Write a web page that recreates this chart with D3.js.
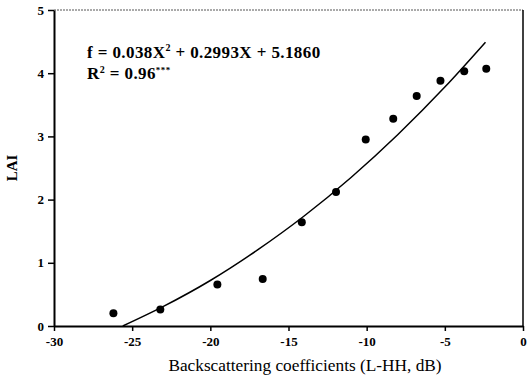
<!DOCTYPE html>
<html>
<head>
<meta charset="utf-8">
<script src="https://cdn.jsdelivr.net/npm/d3@7"></script>
<style>
  body { margin: 0; background: #fff; }
  svg text { font-family: "Liberation Serif", "Times New Roman", serif; fill: #000; }
</style>
</head>
<body>
<div id="chart"></div>
<script>
// measured points (backscattering dB vs LAI)
var backscatter = [-26.2, -23.2, -19.55, -16.65, -14.15, -11.96, -10.06, -8.3, -6.8, -5.28, -3.76, -2.35];
var lai = [0.20, 0.26, 0.655, 0.745, 1.64, 2.12, 2.95, 3.28, 3.64, 3.88, 4.03, 4.07];

// fitted curve
var fitX = [-25.6, -23, -20, -17, -14, -11, -8, -5, -2.4];
var fitY = [0, 0.31, 0.72, 1.2, 1.74, 2.35, 3.03, 3.78, 4.49];

var xTicks = [-30, -25, -20, -15, -10, -5, 0];
var yTicks = [0, 1, 2, 3, 4, 5];

var width = 527, height = 383;
var margin = { top: 10, right: 4, bottom: 57, left: 54 };

var x = d3.scaleLinear().domain([-30, 0]).range([margin.left, width - margin.right]);
var y = d3.scaleLinear().domain([0, 5]).range([height - margin.bottom, margin.top]);

var svg = d3.select("#chart").append("svg")
  .attr("width", width).attr("height", height);

// frame (top and right)
svg.append("line").attr("x1", x(-30)).attr("x2", x(0)).attr("y1", y(5)).attr("y2", y(5))
  .attr("stroke", "#555").attr("stroke-width", 1).attr("stroke-dasharray", "2,1");
svg.append("line").attr("x1", x(0)).attr("x2", x(0)).attr("y1", y(5)).attr("y2", y(0))
  .attr("stroke", "#000").attr("stroke-width", 1.5);

var fmt = function (d) { return String(d); };
var xAxis = d3.axisBottom(x).tickValues(xTicks).tickSize(5).tickSizeOuter(0).tickFormat(fmt);
var yAxis = d3.axisLeft(y).tickValues(yTicks).tickSize(6).tickSizeOuter(0).tickFormat(fmt);

var gx = svg.append("g").attr("transform", "translate(0," + y(0) + ")").call(xAxis);
var gy = svg.append("g").attr("transform", "translate(" + x(-30) + ",0)").call(yAxis);

[gx, gy].forEach(function (g) {
  g.select(".domain").attr("stroke", "#000").attr("stroke-width", 2);
  g.selectAll(".tick line").attr("stroke", "#000").attr("stroke-width", 1.5);
  g.selectAll(".tick text").style("font-family", "Liberation Serif").style("font-size", "13px")
    .style("font-weight", "bold").attr("fill", "#000");
});
gx.selectAll(".tick text").attr("dy", "0.71em").attr("y", 11);
gy.selectAll(".tick text").attr("x", -10);

// fitted curve
var line = d3.line()
  .x(function (d, i) { return x(fitX[i]); })
  .y(function (d) { return y(d); })
  .curve(d3.curveMonotoneX);
svg.append("path").datum(fitY).attr("d", line)
  .attr("fill", "none").attr("stroke", "#000").attr("stroke-width", 1.5);

// points
svg.selectAll("circle.pt").data(lai).enter().append("circle")
  .attr("class", "pt")
  .attr("cx", function (d, i) { return x(backscatter[i]); })
  .attr("cy", function (d) { return y(d); })
  .attr("r", 4).attr("fill", "#000");

// equation text
var eq = svg.append("text").attr("x", 87).attr("y", 58)
  .style("font-size", "17px").style("font-weight", "bold").style("letter-spacing", "0.4px");
eq.append("tspan").text("f = 0.038X");
eq.append("tspan").attr("dy", -7).style("font-size", "10px").text("2");
eq.append("tspan").attr("dy", 7).text(" + 0.2993X + 5.1860");

var r2 = svg.append("text").attr("x", 87).attr("y", 79)
  .style("font-size", "17px").style("font-weight", "bold").style("letter-spacing", "0.4px");
r2.append("tspan").text("R");
r2.append("tspan").attr("dy", -6).style("font-size", "10px").text("2");
r2.append("tspan").attr("dy", 6).text(" = 0.96");
r2.append("tspan").attr("dy", -6).style("font-size", "9px").text("***");

// axis titles
svg.append("text").attr("x", 305).attr("y", 371)
  .attr("text-anchor", "middle").style("font-size", "17.3px")
  .text("Backscattering coefficients (L-HH, dB)");
svg.append("text").attr("transform", "translate(17," + y(2.5) + ") rotate(-90)")
  .attr("text-anchor", "middle").style("font-size", "15px").style("font-weight", "bold").text("LAI");
</script>
</body>
</html>
